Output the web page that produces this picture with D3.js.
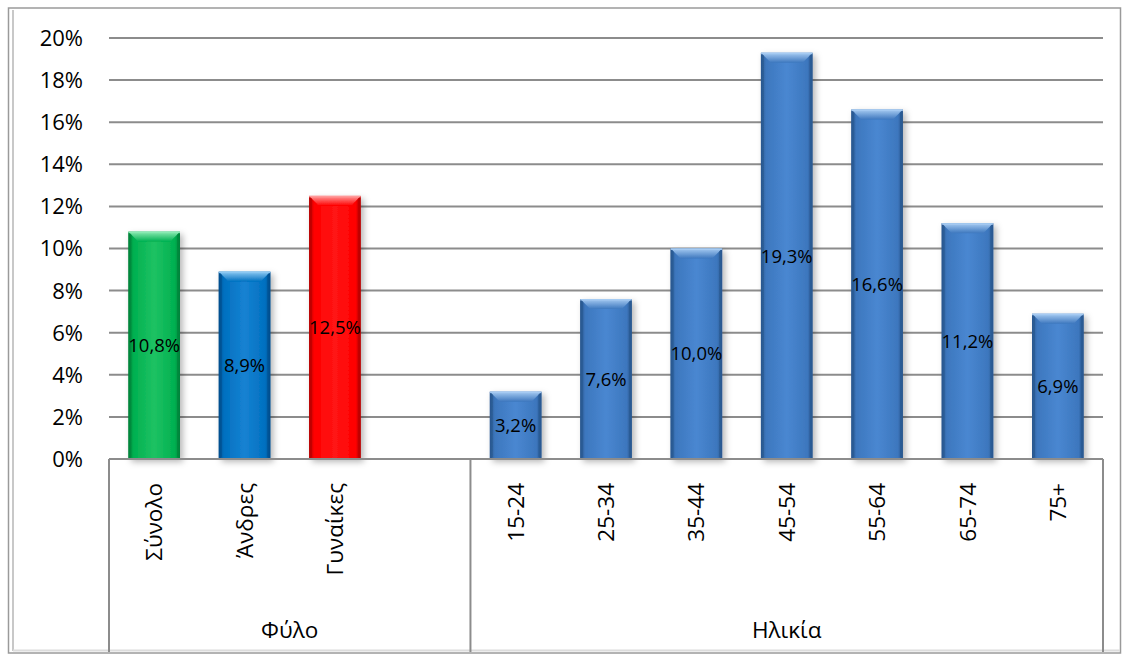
<!DOCTYPE html>
<html>
<head>
<meta charset="utf-8">
<script src="https://cdn.jsdelivr.net/npm/d3@7"></script>
<style>
  html, body { margin: 0; padding: 0; background: #fff; }
  svg { display: block; font-family: "Open Sans", "DejaVu Sans", sans-serif; }
</style>
</head>
<body>
<svg id="chart" width="1123" height="659"></svg>
<script>
// Unemployment rate by sex and by age group
const sexLabels = ["Σύνολο", "Άνδρες", "Γυναίκες"];
const sexValues = [10.8, 8.9, 12.5];
const ageLabels = ["15-24", "25-34", "35-44", "45-54", "55-64", "65-74", "75+"];
const ageValues = [3.2, 7.6, 10.0, 19.3, 16.6, 11.2, 6.9];
const groupLabels = ["Φύλο", "Ηλικία"];
const yTickValues = [0, 2, 4, 6, 8, 10, 12, 14, 16, 18, 20];

// Fill palettes: [dark edge, base, light centre, bevel highlight]
const sexPalettes = [
  ["#00843a", "#00b050", "#1ec263", "#8aeab2"],
  ["#004f8e", "#0070c0", "#1682d2", "#8cc8f2"],
  ["#b80000", "#ff0000", "#ff1414", "#ff9a9a"]
];
const agePalette = ["#2a5890", "#3d77be", "#4987d1", "#a6cbf2"];

const svg = d3.select("#chart");
const plot = { left: 109, right: 1103, top: 38, bottom: 459 };
const axisBottom = 652;

// Chart frame
svg.append("rect").attr("x", 8.5).attr("y", 8).attr("width", 1112).attr("height", 645)
  .attr("fill", "#fff").attr("stroke", "#9a9a9a").attr("stroke-width", 1.5);
svg.append("line").attr("x1", 13).attr("x2", 13).attr("y1", 10).attr("y2", 651)
  .attr("stroke", "#c8c8c8").attr("stroke-width", 2);
svg.append("line").attr("x1", 13).attr("x2", 1120).attr("y1", 650.5).attr("y2", 650.5)
  .attr("stroke", "#dcdcdc").attr("stroke-width", 2);

// Category slots: three sex categories, one empty slot, seven age groups
const slots = [
  ...sexLabels.map((l, i) => ({ key: "s" + i, label: l, value: sexValues[i], pal: sexPalettes[i] })),
  { key: "gap", label: "", value: null },
  ...ageLabels.map((l, i) => ({ key: "a" + i, label: l, value: ageValues[i], pal: agePalette }))
];

const x = d3.scaleBand().domain(slots.map(d => d.key))
  .range([plot.left, plot.right]).paddingInner(0).paddingOuter(0);
const y = d3.scaleLinear().domain([0, 20]).range([plot.bottom, plot.top]);
const barW = x.bandwidth() / 1.75;

const locale = d3.formatLocale({ decimal: ",", thousands: ".", grouping: [3], currency: ["", "€"] });
const valFmt = locale.format(".1f");

// Gradients and shadow
const defs = svg.append("defs");
const shadow = defs.append("filter").attr("id", "shadow")
  .attr("x", "-20%").attr("y", "-10%").attr("width", "150%").attr("height", "130%");
shadow.append("feDropShadow").attr("dx", 3).attr("dy", 3).attr("stdDeviation", 3)
  .attr("flood-color", "#000").attr("flood-opacity", 0.28);

function addGradients(id, pal) {
  const g = defs.append("linearGradient").attr("id", "body-" + id)
    .attr("x1", "0").attr("x2", "1").attr("y1", "0").attr("y2", "0");
  g.append("stop").attr("offset", "0").attr("stop-color", pal[0]);
  g.append("stop").attr("offset", "0.1").attr("stop-color", pal[1]);
  g.append("stop").attr("offset", "0.5").attr("stop-color", pal[2]);
  g.append("stop").attr("offset", "0.9").attr("stop-color", pal[1]);
  g.append("stop").attr("offset", "1").attr("stop-color", pal[0]);
  const t = defs.append("linearGradient").attr("id", "top-" + id)
    .attr("x1", "0").attr("x2", "0").attr("y1", "0").attr("y2", "1");
  t.append("stop").attr("offset", "0").attr("stop-color", pal[3]);
  t.append("stop").attr("offset", "1").attr("stop-color", pal[1]);
}
slots.forEach(d => { if (d.value != null) addGradients(d.key, d.pal); });

// Gridlines
svg.append("g").selectAll("line").data(yTickValues).join("line")
  .attr("x1", plot.left).attr("x2", plot.right)
  .attr("y1", d => y(d)).attr("y2", d => y(d))
  .attr("stroke", "#8c8c8c").attr("stroke-width", 2);

// Y axis labels
svg.append("g").selectAll("text").data(yTickValues).join("text")
  .attr("x", 83).attr("y", d => y(d)).attr("dy", "0.36em")
  .attr("text-anchor", "end").attr("font-size", 22).attr("fill", "#000")
  .text(d => d + "%");

// Bars with bevelled tops
const bars = svg.append("g").selectAll("g").data(slots.filter(d => d.value != null)).join("g")
  .attr("filter", "url(#shadow)");
bars.each(function (d) {
  const g = d3.select(this);
  const x0 = x(d.key) + (x.bandwidth() - barW) / 2, x1 = x0 + barW;
  const y0 = y(d.value), y1 = y(0);
  const b = Math.min(10, (y1 - y0) / 2);
  g.append("rect").attr("x", x0).attr("y", y0).attr("width", barW).attr("height", y1 - y0)
    .attr("fill", `url(#body-${d.key})`);
  g.append("path")
    .attr("d", `M${x0},${y0}L${x1},${y0}L${x1 - b},${y0 + b}L${x0 + b},${y0 + b}Z`)
    .attr("fill", `url(#top-${d.key})`);
  g.append("path")
    .attr("d", `M${x0},${y0}L${x0 + 3},${y0 + 3}L${x0 + 3},${y1 - 2}L${x0},${y1}Z`)
    .attr("fill", d.pal[0]).attr("opacity", 0.7);
  g.append("path")
    .attr("d", `M${x1},${y0}L${x1 - 3},${y0 + 3}L${x1 - 3},${y1 - 2}L${x1},${y1}Z`)
    .attr("fill", d.pal[0]).attr("opacity", 0.7);
  g.append("rect").attr("x", x0).attr("y", y0).attr("width", barW).attr("height", 1.5)
    .attr("fill", d.pal[3]).attr("opacity", 0.9);
});

// Value labels, centred in each bar
svg.append("g").selectAll("text").data(slots.filter(d => d.value != null)).join("text")
  .attr("x", d => x(d.key) + x.bandwidth() / 2)
  .attr("y", d => (y(d.value) + y(0)) / 2).attr("dy", "0.36em")
  .attr("text-anchor", "middle").attr("font-size", 18.5).attr("fill", "#000")
  .text(d => valFmt(d.value) + "%");

// Baseline
svg.append("line").attr("x1", plot.left).attr("x2", plot.right)
  .attr("y1", y(0)).attr("y2", y(0)).attr("stroke", "#8c8c8c").attr("stroke-width", 2);

// Group separators
const groups = [
  { label: groupLabels[0], from: x("s0"), to: x("gap") + x.bandwidth() },
  { label: groupLabels[1], from: x("a0"), to: x("a6") + x.bandwidth() }
];
const seps = [groups[0].from, groups[1].from, groups[1].to];
svg.append("g").selectAll("line").data(seps).join("line")
  .attr("x1", d => d).attr("x2", d => d).attr("y1", y(0)).attr("y2", axisBottom)
  .attr("stroke", "#8c8c8c").attr("stroke-width", 2);

// Rotated category labels
svg.append("g").selectAll("text").data(slots.filter(d => d.label)).join("text")
  .attr("transform", d => `translate(${x(d.key) + x.bandwidth() / 2},483) rotate(-90)`)
  .attr("dy", "0.36em").attr("text-anchor", "end")
  .attr("font-size", 22.5).attr("fill", "#000")
  .text(d => d.label);

// Group labels
svg.append("g").selectAll("text").data(groups).join("text")
  .attr("x", d => (d.from + d.to) / 2).attr("y", 630).attr("dy", "0.36em")
  .attr("text-anchor", "middle").attr("font-size", 22.5).attr("fill", "#000")
  .text(d => d.label);
</script>
</body>
</html>
